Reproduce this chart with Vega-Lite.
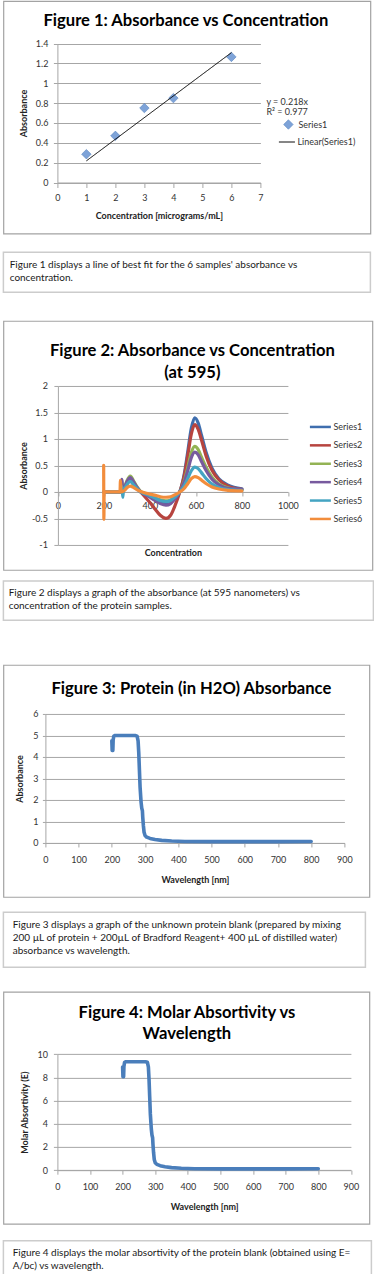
{
  "$schema": "https://vega.github.io/schema/vega-lite/v6.json",
  "background": "white",
  "padding": {"left": 2.4, "top": 0, "right": 0, "bottom": 0},
  "spacing": 41.95,
  "resolve": {"scale": {"fill": "independent", "stroke": "independent", "strokeDash": "independent"}},
  "vconcat": [
    {
      "spacing": 25.95,
      "resolve": {"scale": {"fill": "independent", "stroke": "independent", "strokeDash": "independent"}},
      "vconcat": [
        {
          "spacing": 16.35,
          "resolve": {"scale": {"fill": "independent", "stroke": "independent", "strokeDash": "independent"}},
          "vconcat": [
            {
              "width": 367,
              "height": 232.5,
              "view": {"stroke": "#a3a3a3", "strokeWidth": 1.2},
              "title": {"text": "Figure 1: Absorbance vs Concentration", "offset": -29.0, "dx": -1},
              "layer": [
                {
                  "data": {"values": [
                    {"series": "Series1", "conc": 1, "abs": 0.285},
                    {"series": "Series1", "conc": 2, "abs": 0.47},
                    {"series": "Series1", "conc": 3, "abs": 0.75},
                    {"series": "Series1", "conc": 4, "abs": 0.85},
                    {"series": "Series1", "conc": 6, "abs": 1.265}
                  ]},
                  "mark": {"type": "point", "shape": "diamond", "filled": true, "size": 90, "opacity": 1, "stroke": "#5a86c0", "strokeWidth": 0.6},
                  "encoding": {
                    "x": {"field": "conc", "type": "quantitative", "scale": {"domain": [0, 7], "range": [54, 257], "nice": false, "zero": false},
                      "axis": {"title": "Concentration [micrograms/mL]", "values": [0, 1, 2, 3, 4, 5, 6, 7], "labelExpr": "'' + datum.value", "grid": false, "offset": -51, "tickSize": 5, "labelPadding": 6, "titleY": 33, "titleBaseline": "middle"}},
                    "y": {"field": "abs", "type": "quantitative", "scale": {"domain": [0, 1.4], "range": [181.5, 42.5], "nice": false},
                      "axis": {"title": "Absorbance", "values": [0, 0.2, 0.4, 0.6, 0.8, 1, 1.2, 1.4], "labelExpr": "'' + datum.value", "grid": true, "offset": -54, "tickSize": 4, "labelPadding": 5.5, "titleX": -34.3, "titleBaseline": "middle"}},
                    "fill": {"field": "series", "type": "nominal", "scale": {"range": ["#7ea3d8"]},
                      "legend": {"orient": "none", "legendX": 263, "legendY": 97, "padding": 0, "title": ["y = 0.218x", "R² = 0.977"], "titleFontWeight": "normal", "titleFontSize": 9, "titleColor": "#333333", "titleLineHeight": 10, "titlePadding": 2, "symbolType": "diamond", "symbolSize": 90, "symbolOffset": 16.5, "symbolStrokeColor": "#5a86c0", "symbolStrokeWidth": 0.6, "labelOffset": 4.5, "labelFontSize": 9}}
                  }
                },
                {
                  "data": {"values": [
                    {"fit": "Linear(Series1)", "conc": 1, "abs": 0.218},
                    {"fit": "Linear(Series1)", "conc": 6, "abs": 1.308}
                  ]},
                  "mark": {"type": "line", "color": "#000000", "strokeWidth": 1},
                  "encoding": {
                    "x": {"field": "conc", "type": "quantitative", "scale": {"domain": [0, 7], "range": [54, 257], "nice": false, "zero": false},
                      "axis": {"title": "Concentration [micrograms/mL]", "values": [0, 1, 2, 3, 4, 5, 6, 7], "labelExpr": "'' + datum.value", "grid": false, "offset": -51, "tickSize": 5, "labelPadding": 6, "titleY": 33, "titleBaseline": "middle"}},
                    "y": {"field": "abs", "type": "quantitative", "scale": {"domain": [0, 1.4], "range": [181.5, 42.5], "nice": false},
                      "axis": {"title": "Absorbance", "values": [0, 0.2, 0.4, 0.6, 0.8, 1, 1.2, 1.4], "labelExpr": "'' + datum.value", "grid": true, "offset": -54, "tickSize": 4, "labelPadding": 5.5, "titleX": -34.3, "titleBaseline": "middle"}},
                    "strokeDash": {"field": "fit", "type": "nominal", "scale": {"range": [[1, 0]]},
                      "legend": {"orient": "none", "legendX": 275, "legendY": 132.5, "padding": 0, "title": null, "symbolType": "stroke", "symbolSize": 256, "symbolStrokeColor": "#000000", "symbolStrokeWidth": 1, "labelOffset": 2, "labelFontSize": 9}}
                  }
                }
              ]
            },
            {
              "width": 367,
              "height": 40,
              "view": {"stroke": "#cccccc", "strokeWidth": 1.5},
              "title": {"text": ["Figure 1 displays a line of best fit for the 6 samples' absorbance vs", "concentration."], "anchor": "start", "frame": "group", "offset": -30.7, "dx": 6.3, "fontSize": 10, "fontWeight": "normal", "lineHeight": 13.4, "color": "#1a1a1a"},
              "data": {"values": []},
              "mark": "text"
            }
          ]
        },
        {
          "spacing": 8.95,
          "resolve": {"scale": {"fill": "independent", "stroke": "independent", "strokeDash": "independent"}},
          "vconcat": [
            {
              "width": 369,
              "height": 249,
              "view": {"stroke": "#a3a3a3", "strokeWidth": 1.2},
              "title": {"text": ["Figure 2: Absorbance vs Concentration", "(at 595)"], "offset": -60.8, "dx": 4.5, "lineHeight": 22.6},
              "data": {"values": [
                {"s":"Series1","w":200,"a":0},{"s":"Series1","w":270,"a":0},{"s":"Series1","w":276,"a":0},{"s":"Series1","w":278,"a":0.22},{"s":"Series1","w":281,"a":0},{"s":"Series1","w":290,"a":0.07},{"s":"Series1","w":300,"a":0.17},{"s":"Series1","w":315,"a":0.24},{"s":"Series1","w":330,"a":0.16},{"s":"Series1","w":345,"a":0.07},{"s":"Series1","w":360,"a":0},{"s":"Series1","w":380,"a":-0.04},{"s":"Series1","w":400,"a":-0.09},{"s":"Series1","w":420,"a":-0.14},{"s":"Series1","w":445,"a":-0.19},{"s":"Series1","w":470,"a":-0.22},{"s":"Series1","w":490,"a":-0.19},{"s":"Series1","w":510,"a":-0.11},{"s":"Series1","w":530,"a":0},{"s":"Series1","w":550,"a":0.35},{"s":"Series1","w":565,"a":0.77},{"s":"Series1","w":580,"a":1.2},{"s":"Series1","w":595,"a":1.4},{"s":"Series1","w":610,"a":1.3},{"s":"Series1","w":625,"a":1.06},{"s":"Series1","w":645,"a":0.74},{"s":"Series1","w":670,"a":0.45},{"s":"Series1","w":700,"a":0.25},{"s":"Series1","w":740,"a":0.13},{"s":"Series1","w":800,"a":0.06},
                {"s":"Series2","w":200,"a":0},{"s":"Series2","w":270,"a":0},{"s":"Series2","w":276,"a":0},{"s":"Series2","w":278,"a":0.15},{"s":"Series2","w":281,"a":0},{"s":"Series2","w":290,"a":0.07},{"s":"Series2","w":300,"a":0.15},{"s":"Series2","w":315,"a":0.22},{"s":"Series2","w":330,"a":0.14},{"s":"Series2","w":345,"a":0.07},{"s":"Series2","w":360,"a":0},{"s":"Series2","w":380,"a":-0.1},{"s":"Series2","w":400,"a":-0.2},{"s":"Series2","w":420,"a":-0.31},{"s":"Series2","w":445,"a":-0.44},{"s":"Series2","w":470,"a":-0.5},{"s":"Series2","w":490,"a":-0.44},{"s":"Series2","w":510,"a":-0.25},{"s":"Series2","w":530,"a":0},{"s":"Series2","w":550,"a":0.32},{"s":"Series2","w":565,"a":0.7},{"s":"Series2","w":580,"a":1.09},{"s":"Series2","w":595,"a":1.27},{"s":"Series2","w":610,"a":1.18},{"s":"Series2","w":625,"a":0.97},{"s":"Series2","w":645,"a":0.67},{"s":"Series2","w":670,"a":0.41},{"s":"Series2","w":700,"a":0.23},{"s":"Series2","w":740,"a":0.11},{"s":"Series2","w":800,"a":0.05},
                {"s":"Series3","w":200,"a":0},{"s":"Series3","w":270,"a":0},{"s":"Series3","w":276,"a":0},{"s":"Series3","w":278,"a":0.18},{"s":"Series3","w":281,"a":0},{"s":"Series3","w":290,"a":0.09},{"s":"Series3","w":300,"a":0.21},{"s":"Series3","w":315,"a":0.3},{"s":"Series3","w":330,"a":0.2},{"s":"Series3","w":345,"a":0.09},{"s":"Series3","w":360,"a":0.01},{"s":"Series3","w":380,"a":-0.03},{"s":"Series3","w":400,"a":-0.07},{"s":"Series3","w":420,"a":-0.11},{"s":"Series3","w":445,"a":-0.15},{"s":"Series3","w":470,"a":-0.17},{"s":"Series3","w":490,"a":-0.15},{"s":"Series3","w":510,"a":-0.085},{"s":"Series3","w":530,"a":0},{"s":"Series3","w":550,"a":0.215},{"s":"Series3","w":565,"a":0.47},{"s":"Series3","w":580,"a":0.74},{"s":"Series3","w":595,"a":0.86},{"s":"Series3","w":610,"a":0.8},{"s":"Series3","w":625,"a":0.65},{"s":"Series3","w":645,"a":0.46},{"s":"Series3","w":670,"a":0.28},{"s":"Series3","w":700,"a":0.15},{"s":"Series3","w":740,"a":0.08},{"s":"Series3","w":800,"a":0.04},
                {"s":"Series4","w":200,"a":0},{"s":"Series4","w":270,"a":0},{"s":"Series4","w":276,"a":0},{"s":"Series4","w":278,"a":0.24},{"s":"Series4","w":281,"a":0},{"s":"Series4","w":290,"a":0.08},{"s":"Series4","w":300,"a":0.19},{"s":"Series4","w":315,"a":0.27},{"s":"Series4","w":330,"a":0.18},{"s":"Series4","w":345,"a":0.08},{"s":"Series4","w":360,"a":0},{"s":"Series4","w":380,"a":-0.05},{"s":"Series4","w":400,"a":-0.1},{"s":"Series4","w":420,"a":-0.155},{"s":"Series4","w":445,"a":-0.22},{"s":"Series4","w":470,"a":-0.25},{"s":"Series4","w":490,"a":-0.22},{"s":"Series4","w":510,"a":-0.125},{"s":"Series4","w":530,"a":0},{"s":"Series4","w":550,"a":0.19},{"s":"Series4","w":565,"a":0.41},{"s":"Series4","w":580,"a":0.645},{"s":"Series4","w":595,"a":0.75},{"s":"Series4","w":610,"a":0.7},{"s":"Series4","w":625,"a":0.57},{"s":"Series4","w":645,"a":0.4},{"s":"Series4","w":670,"a":0.24},{"s":"Series4","w":700,"a":0.135},{"s":"Series4","w":740,"a":0.07},{"s":"Series4","w":800,"a":0.05},
                {"s":"Series5","w":200,"a":0},{"s":"Series5","w":270,"a":0},{"s":"Series5","w":277,"a":0},{"s":"Series5","w":279,"a":0.1},{"s":"Series5","w":282,"a":-0.1},{"s":"Series5","w":285,"a":0.02},{"s":"Series5","w":290,"a":0.06},{"s":"Series5","w":300,"a":0.14},{"s":"Series5","w":315,"a":0.2},{"s":"Series5","w":330,"a":0.13},{"s":"Series5","w":345,"a":0.06},{"s":"Series5","w":360,"a":0},{"s":"Series5","w":380,"a":-0.036},{"s":"Series5","w":400,"a":-0.07},{"s":"Series5","w":420,"a":-0.11},{"s":"Series5","w":445,"a":-0.16},{"s":"Series5","w":470,"a":-0.18},{"s":"Series5","w":490,"a":-0.16},{"s":"Series5","w":510,"a":-0.09},{"s":"Series5","w":530,"a":0},{"s":"Series5","w":550,"a":0.12},{"s":"Series5","w":565,"a":0.26},{"s":"Series5","w":580,"a":0.4},{"s":"Series5","w":595,"a":0.47},{"s":"Series5","w":610,"a":0.44},{"s":"Series5","w":625,"a":0.36},{"s":"Series5","w":645,"a":0.25},{"s":"Series5","w":670,"a":0.15},{"s":"Series5","w":700,"a":0.085},{"s":"Series5","w":740,"a":0.045},{"s":"Series5","w":800,"a":0.03},
                {"s":"Series6","w":199,"a":0.5},{"s":"Series6","w":200,"a":-0.52},{"s":"Series6","w":201,"a":0},{"s":"Series6","w":270,"a":0},{"s":"Series6","w":272,"a":0.22},{"s":"Series6","w":275,"a":0},{"s":"Series6","w":290,"a":0.03},{"s":"Series6","w":300,"a":0.08},{"s":"Series6","w":315,"a":0.11},{"s":"Series6","w":330,"a":0.08},{"s":"Series6","w":345,"a":0.04},{"s":"Series6","w":360,"a":0.01},{"s":"Series6","w":380,"a":-0.02},{"s":"Series6","w":400,"a":-0.04},{"s":"Series6","w":420,"a":-0.06},{"s":"Series6","w":445,"a":-0.09},{"s":"Series6","w":470,"a":-0.1},{"s":"Series6","w":490,"a":-0.09},{"s":"Series6","w":510,"a":-0.05},{"s":"Series6","w":530,"a":0},{"s":"Series6","w":550,"a":0.07},{"s":"Series6","w":565,"a":0.16},{"s":"Series6","w":580,"a":0.25},{"s":"Series6","w":595,"a":0.29},{"s":"Series6","w":610,"a":0.27},{"s":"Series6","w":625,"a":0.22},{"s":"Series6","w":645,"a":0.155},{"s":"Series6","w":670,"a":0.095},{"s":"Series6","w":700,"a":0.055},{"s":"Series6","w":740,"a":0.03},{"s":"Series6","w":800,"a":0.02}
              ]},
              "mark": {"type": "line", "strokeWidth": 3.2, "strokeJoin": "round", "strokeCap": "round", "interpolate": "monotone"},
              "encoding": {
                "x": {"field": "w", "type": "quantitative", "scale": {"domain": [0, 1000], "range": [54.5, 284.5], "nice": false, "zero": false},
                  "axis": {"title": "Concentration", "values": [0, 200, 400, 600, 800, 1000], "labelExpr": "'' + datum.value", "grid": false, "offset": -78, "tickSize": 4, "labelPadding": 6, "titleY": 61, "titleBaseline": "middle"}},
                "y": {"field": "a", "type": "quantitative", "scale": {"domain": [-1, 2], "range": [224, 65], "nice": false, "zero": false},
                  "axis": {"title": "Absorbance", "values": [-1, -0.5, 0, 0.5, 1, 1.5, 2], "labelExpr": "'' + datum.value", "grid": true, "offset": -54.5, "tickSize": 4, "labelPadding": 6.5, "titleX": -34.8, "titleBaseline": "middle"}},
                "stroke": {"field": "s", "type": "nominal",
                  "scale": {"domain": ["Series1", "Series2", "Series3", "Series4", "Series5", "Series6"], "range": ["#3f6eae", "#b7443f", "#93b354", "#775a9e", "#44a4c2", "#f28d3c"]},
                  "legend": {"orient": "none", "legendX": 305, "legendY": 94, "padding": 0, "title": null, "symbolType": "stroke", "symbolSize": 441, "symbolStrokeWidth": 2.5, "labelOffset": 1, "labelFontSize": 9, "rowPadding": 1.4}}
              }
            },
            {
              "width": 370,
              "height": 39.4,
              "view": {"stroke": "#cccccc", "strokeWidth": 1.5},
              "title": {"text": ["Figure 2 displays a graph of the absorbance (at 595 nanometers) vs", "concentration of the protein samples."], "anchor": "start", "frame": "group", "offset": -30.1, "dx": 5.3, "fontSize": 10, "fontWeight": "normal", "lineHeight": 13, "color": "#1a1a1a"},
              "data": {"values": []},
              "mark": "text"
            }
          ]
        }
      ]
    },
    {
      "spacing": 21.95,
      "vconcat": [
        {
          "spacing": 13.35,
          "vconcat": [
            {
              "width": 366,
              "height": 232,
              "view": {"stroke": "#a3a3a3", "strokeWidth": 1.2},
              "title": {"text": "Figure 3: Protein (in H2O) Absorbance", "offset": -32.2, "dx": 5},
              "data": {"values": [
                {"w":200,"a":4.75},{"w":201,"a":4.3},{"w":202,"a":4.45},{"w":203,"a":4.3},{"w":204,"a":4.8},{"w":206,"a":4.97},{"w":210,"a":5.0},{"w":240,"a":5.0},{"w":270,"a":5.0},{"w":276,"a":4.97},{"w":279,"a":4.75},{"w":281,"a":4.2},{"w":283,"a":3.4},{"w":285,"a":2.6},{"w":288,"a":1.9},{"w":290,"a":1.62},{"w":292,"a":1.5},{"w":293,"a":1.2},{"w":295,"a":0.8},{"w":297,"a":0.5},{"w":300,"a":0.35},{"w":305,"a":0.27},{"w":315,"a":0.21},{"w":330,"a":0.16},{"w":350,"a":0.12},{"w":380,"a":0.09},{"w":420,"a":0.07},{"w":500,"a":0.06},{"w":600,"a":0.06},{"w":700,"a":0.06},{"w":800,"a":0.07}
              ]},
              "mark": {"type": "line", "color": "#4a7ebb", "strokeWidth": 3.6, "strokeJoin": "round", "strokeCap": "round"},
              "encoding": {
                "x": {"field": "w", "type": "quantitative", "scale": {"domain": [0, 900], "range": [42, 341], "nice": false, "zero": false},
                  "axis": {"title": "Wavelength [nm]", "values": [0, 100, 200, 300, 400, 500, 600, 700, 800, 900], "labelExpr": "'' + datum.value", "grid": false, "offset": -54, "tickSize": 4, "labelPadding": 9, "titleY": 37, "titleBaseline": "middle"}},
                "y": {"field": "a", "type": "quantitative", "scale": {"domain": [0, 6], "range": [178, 49], "nice": false},
                  "axis": {"title": "Absorbance", "values": [0, 1, 2, 3, 4, 5, 6], "labelExpr": "'' + datum.value", "grid": true, "offset": -42, "tickSize": 3, "labelPadding": 4.5, "titleX": -25.7, "titleBaseline": "middle"}}
              }
            },
            {
              "width": 362,
              "height": 55,
              "view": {"stroke": "#cccccc", "strokeWidth": 1.5},
              "title": {"text": ["Figure 3 displays a graph of the unknown protein blank (prepared by mixing", "200 µL of protein + 200µL of Bradford Reagent+ 400 µL of distilled water)", "absorbance vs wavelength."], "anchor": "start", "frame": "group", "offset": -43.3, "dx": 9.3, "fontSize": 10, "fontWeight": "normal", "lineHeight": 13, "color": "#1a1a1a"},
              "data": {"values": []},
              "mark": "text"
            }
          ]
        },
        {
          "spacing": 14.95,
          "vconcat": [
            {
              "width": 366,
              "height": 232,
              "view": {"stroke": "#a3a3a3", "strokeWidth": 1.2},
              "title": {"text": ["Figure 4: Molar Absortivity vs", "Wavelength"], "offset": -51.2, "dx": 0.5, "lineHeight": 21.7},
              "data": {"values": [
                {"w":200,"a":8.9},{"w":201,"a":8.05},{"w":202,"a":8.3},{"w":203,"a":8.05},{"w":204,"a":8.95},{"w":206,"a":9.3},{"w":210,"a":9.35},{"w":240,"a":9.35},{"w":270,"a":9.35},{"w":276,"a":9.3},{"w":279,"a":8.9},{"w":281,"a":7.85},{"w":283,"a":6.35},{"w":285,"a":4.85},{"w":288,"a":3.55},{"w":290,"a":3.03},{"w":292,"a":2.8},{"w":293,"a":2.25},{"w":295,"a":1.5},{"w":297,"a":0.93},{"w":300,"a":0.65},{"w":305,"a":0.5},{"w":315,"a":0.39},{"w":330,"a":0.3},{"w":350,"a":0.22},{"w":380,"a":0.17},{"w":420,"a":0.13},{"w":500,"a":0.11},{"w":600,"a":0.11},{"w":700,"a":0.11},{"w":800,"a":0.13}
              ]},
              "mark": {"type": "line", "color": "#4a7ebb", "strokeWidth": 3.6, "strokeJoin": "round", "strokeCap": "round"},
              "encoding": {
                "x": {"field": "w", "type": "quantitative", "scale": {"domain": [0, 900], "range": [54, 347.5], "nice": false, "zero": false},
                  "axis": {"title": "Wavelength [nm]", "values": [0, 100, 200, 300, 400, 500, 600, 700, 800, 900], "labelExpr": "'' + datum.value", "grid": false, "offset": -53.7, "tickSize": 4, "labelPadding": 8.5, "titleY": 36.7, "titleBaseline": "middle"}},
                "y": {"field": "a", "type": "quantitative", "scale": {"domain": [0, 10], "range": [178.3, 62.3], "nice": false},
                  "axis": {"title": "Molar Absortivity (E)", "values": [0, 2, 4, 6, 8, 10], "labelExpr": "'' + datum.value", "grid": true, "offset": -54, "tickSize": 4, "labelPadding": 6, "titleX": -33, "titleBaseline": "middle"}}
              }
            },
            {
              "width": 368,
              "height": 38.4,
              "view": {"stroke": "#cccccc", "strokeWidth": 1.5},
              "title": {"text": ["Figure 4 displays the molar absortivity of the protein blank (obtained using E=", "A/bc) vs wavelength."], "anchor": "start", "frame": "group", "offset": -30.1, "dx": 9.3, "fontSize": 10, "fontWeight": "normal", "lineHeight": 13.4, "color": "#1a1a1a"},
              "data": {"values": []},
              "mark": "text"
            }
          ]
        }
      ]
    }
  ],
  "config": {
    "font": "Lato",
    "view": {"stroke": null},
    "axis": {"labelFont": "Lato", "labelFontSize": 9, "labelColor": "#333333", "titleFont": "Lato", "titleFontSize": 9, "titleFontWeight": "bold", "titleColor": "#222222", "domainColor": "#a6a6a6", "tickColor": "#a6a6a6", "gridColor": "#a6a6a6", "gridOpacity": 1, "labelFlush": false, "labelOverlap": false},
    "title": {"font": "Lato", "fontSize": 16.6, "fontWeight": "bold", "color": "#000000", "anchor": "middle", "frame": "group"},
    "legend": {"labelFont": "Lato", "labelFontSize": 9, "labelColor": "#333333", "titleFont": "Lato"},
    "locale": {"number": {"decimal": ".", "thousands": ",", "grouping": [3], "currency": ["$", ""], "minus": "-"}}
  }
}
